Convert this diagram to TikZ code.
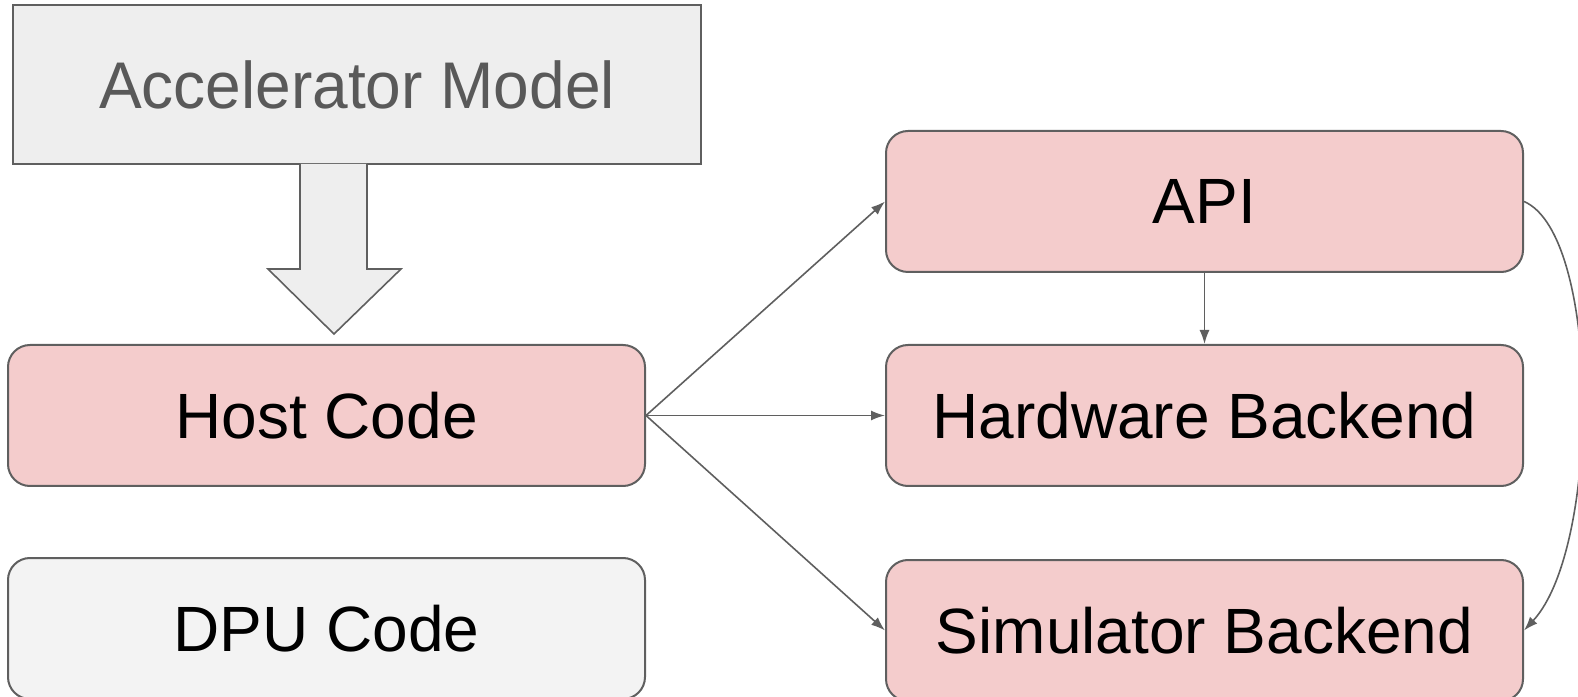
\documentclass[tikz,border=0pt]{standalone}
\usepackage{fontspec}
\setmainfont{Liberation Sans}
\newfontfamily\narrowsans[FakeStretch=0.97]{Liberation Sans}
\usetikzlibrary{arrows.meta,positioning}
\definecolor{edge}{HTML}{5F5F5F}
\definecolor{hostfill}{HTML}{F4CCCC}
\definecolor{modelfill}{HTML}{EEEEEE}
\definecolor{dpufill}{HTML}{F3F3F3}
\definecolor{modeltext}{HTML}{595959}
\tikzset{
  link/.style={-{Latex[length=7pt,width=5pt]},draw=edge,line width=0.8pt},
  blk/.style={draw=edge,line width=1pt,rounded corners=11pt,fill=hostfill,
    minimum width=318.5pt,minimum height=70.5pt,inner sep=0pt,
    font=\fontsize{32}{38}\selectfont},
  dpublk/.style={blk,fill=dpufill},
  model/.style={draw=edge,line width=1pt,fill=modelfill,minimum width=344pt,
    minimum height=79.5pt,inner sep=0pt,text=modeltext,
    font=\narrowsans\fontsize{33}{38}\selectfont},
  fatarrow/.style={draw=edge,line width=0.8pt,fill=modelfill},
}
\begin{document}
\begin{tikzpicture}[x=0.5pt,y=0.5pt]
\useasboundingbox (0,0) rectangle (1578,696);
% left column
\node[model] (accel) at (357,611.5) {Accelerator Model};
\node[blk] (host) at (326.5,280.5) {Host Code};
\node[dpublk,below=35pt of host] (dpu) {DPU Code};
% right column
\node[blk,right=119.5pt of host] (hw) {Hardware Backend};
\node[blk,above=35.5pt of hw] (api) {API};
\node[blk,below=36pt of hw] (sim) {Simulator Backend};
% block arrow from the model down to the host code
\draw[fatarrow] (300,532) -- (300,427) -- (268,427) -- (334,362)
  -- (401,427) -- (367,427) -- (367,532);
\draw[->,link] (host.east) -- (api.west);
\draw[->,link] (host.east) -- (hw.west);
\draw[->,link] (host.east) -- (sim.west);
\draw[->,link] (api.south) -- (hw.north);
\draw[->,link] (api.east) .. controls +(77,-33) and +(77,83) .. (sim.east);
\end{tikzpicture}
\end{document}
